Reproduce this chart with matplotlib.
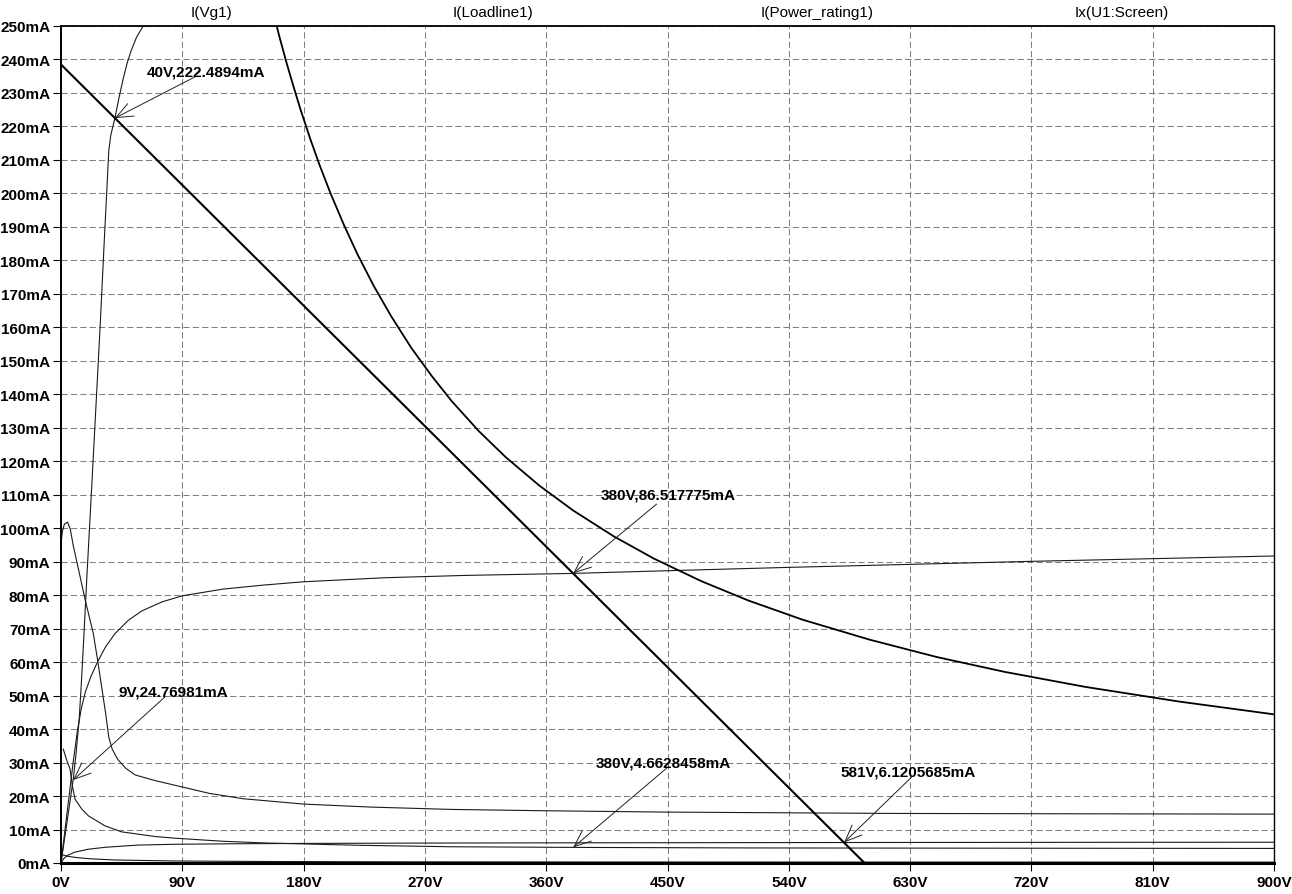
import numpy as np
import matplotlib
matplotlib.use('Agg')
import matplotlib.pyplot as plt

plt.rcParams['font.family'] = ['Liberation Sans', 'DejaVu Sans']

# dados (tensao em V, corrente em mA)
ll_v = [0, 596.2]
ll_i = [238.5, 0]

pw_v = [158, 162, 167, 172, 178, 185, 192, 200, 210, 220, 232, 245, 260, 275, 290, 310, 330, 355, 380, 410,
        440, 475, 510, 550, 600, 650, 700, 760, 830, 900]
pw_i = [253.2, 246.9, 239.5, 232.6, 224.7, 216.2, 208.3, 200, 190.5, 181.8, 172.4, 163.3, 153.8, 145.5, 137.9,
        129.0, 121.2, 112.7, 105.3, 97.6, 90.9, 84.2, 78.4, 72.7, 66.7, 61.5, 57.1, 52.6, 48.2, 44.4]

# curva ingreme (Vg1 = 0)
s_v = [0, 3, 6, 9, 11, 13.5, 15, 17, 19, 21, 23, 26, 29, 32, 35.5, 37, 40, 43, 46, 49, 52, 56, 61, 70]
s_i = [0, 8.2, 16.5, 24.8, 32, 43, 53, 68, 84, 99, 114, 137, 160, 185, 213, 217.5, 222.5, 228.5, 234, 238.8, 242.6, 246.6, 250, 255]

# curva de placa que satura ~86mA
a_v = [0, 3, 6, 9, 12, 15, 18, 22, 27, 33, 40, 50, 60, 75, 90, 120, 150, 180, 240, 300, 380, 450, 540, 630, 720, 810, 900]
a_i = [0, 10, 20, 30, 39, 46, 51, 55.5, 60, 64.5, 68.5, 72.5, 75.3, 78, 79.8, 81.8, 83, 84, 85.2, 85.9, 86.5, 87.3, 88.3, 89.2, 90.1, 90.9, 91.7]

# curva com pico (~102mA)
c_v = [0, 1, 2.5, 4.9, 7, 9, 12, 15, 18, 21, 24, 27, 30, 33, 35.5, 38, 42, 48, 55, 70, 90, 110, 135, 180, 230, 290, 360, 450, 620, 750, 900]
c_i = [95.3, 99, 101.2, 101.8, 99.5, 95, 89.5, 84, 78.5, 73.5, 68.5, 61, 53, 45, 37.5, 34, 31, 28.3, 26.3, 24.6, 22.7, 20.8, 19.2, 17.6, 16.7, 16, 15.6, 15.2, 14.8, 14.7, 14.6]

# curva que cai de ~34mA
d_v = [1.7, 4, 6.7, 8.4, 10.4, 15.4, 20.3, 32.6, 45, 70, 85, 120, 150, 180, 220, 290, 380, 510, 700, 900]
d_i = [34, 31, 28.1, 23.1, 19.1, 16.1, 14.1, 11.1, 9.3, 7.9, 7.4, 6.5, 6.0, 5.7, 5.3, 4.85, 4.66, 4.5, 4.42, 4.35]

# curva que sobe ate ~6mA
e_v = [0, 2, 5, 10, 20, 33, 57, 85, 130, 180, 290, 380, 581, 750, 900]
e_i = [0, 1.3, 2.3, 3.2, 4.1, 4.7, 5.35, 5.6, 5.75, 5.85, 5.97, 6.03, 6.12, 6.17, 6.2]

# curva pequena perto de zero
f_v = [0.5, 5, 10, 20, 40, 85, 150, 250, 400, 900]
f_i = [2.5, 2.0, 1.7, 1.3, 0.9, 0.6, 0.45, 0.35, 0.3, 0.25]

xticks = [0, 90, 180, 270, 360, 450, 540, 630, 720, 810, 900]
yticks = list(range(0, 251, 10))

fig = plt.figure(figsize=(12.92, 8.95), dpi=100)
ax = fig.add_axes([61 / 1292, 31 / 895, 1213 / 1292, 837 / 895])

thin = dict(color='#1a1a1a', lw=0.8)
ax.plot(s_v, s_i, **thin)
ax.plot(a_v, a_i, **thin)
ax.plot(c_v, c_i, **thin)
ax.plot(d_v, d_i, **thin)
ax.plot(e_v, e_i, **thin)
ax.plot(f_v, f_i, **thin)
ax.plot(ll_v, ll_i, color='black', lw=1.5)
ax.plot(pw_v, pw_i, color='black', lw=1.3)

ax.set_xlim(0, 900)
ax.set_ylim(0, 250)
ax.set_xticks(xticks)
ax.set_xticklabels([f'{v}V' for v in xticks], fontweight='bold', fontsize=11)
ax.set_yticks(yticks)
ax.set_yticklabels([f'{v}mA' for v in yticks], fontweight='bold', fontsize=11)
ax.tick_params(axis='both', direction='out', length=6, width=0.8, color='black')
ax.tick_params(axis='y', pad=1.5)
ax.tick_params(axis='x', pad=3)
ax.grid(True, color='#808080', lw=0.75, linestyle=(0, (6, 3)))

ax.spines['left'].set_linewidth(1.4)
ax.spines['top'].set_linewidth(1.3)
ax.spines['right'].set_linewidth(1.0)
ax.spines['bottom'].set_linewidth(2.2)

# anotacoes dos cursores
notes = [
    ('40V,222.4894mA', (40, 222.49), (99.4, 234.8), (107.6, 236.4)),
    ('380V,86.517775mA', (380, 86.52), (441.9, 107.2), (450.3, 110.0)),
    ('9V,24.76981mA', (9, 24.77), (77.1, 49.6), (83.1, 51.2)),
    ('380V,4.6628458mA', (380, 4.66), (449.3, 28.3), (446.6, 30.0)),
    ('581V,6.1205685mA', (581, 6.12), (631, 25.6), (628.3, 27.3)),
]
for txt, tgt, start, pos in notes:
    ax.annotate('', xy=tgt, xytext=start,
                arrowprops=dict(arrowstyle='->,head_length=0.6,head_width=0.25',
                                color='#222222', lw=0.7, mutation_scale=20,
                                shrinkA=0, shrinkB=0))
    ax.text(pos[0], pos[1], txt, ha='center', va='center', fontsize=11, fontweight='bold')

# nomes dos traços no topo
for x, name in [(211, 'I(Vg1)'), (493, 'I(Loadline1)'), (817, 'I(Power_rating1)'), (1122, 'Ix(U1:Screen)')]:
    fig.text(x / 1292, 1 - 13 / 895, name, ha='center', va='center', fontsize=11)

fig.savefig('out.png', dpi=100)
